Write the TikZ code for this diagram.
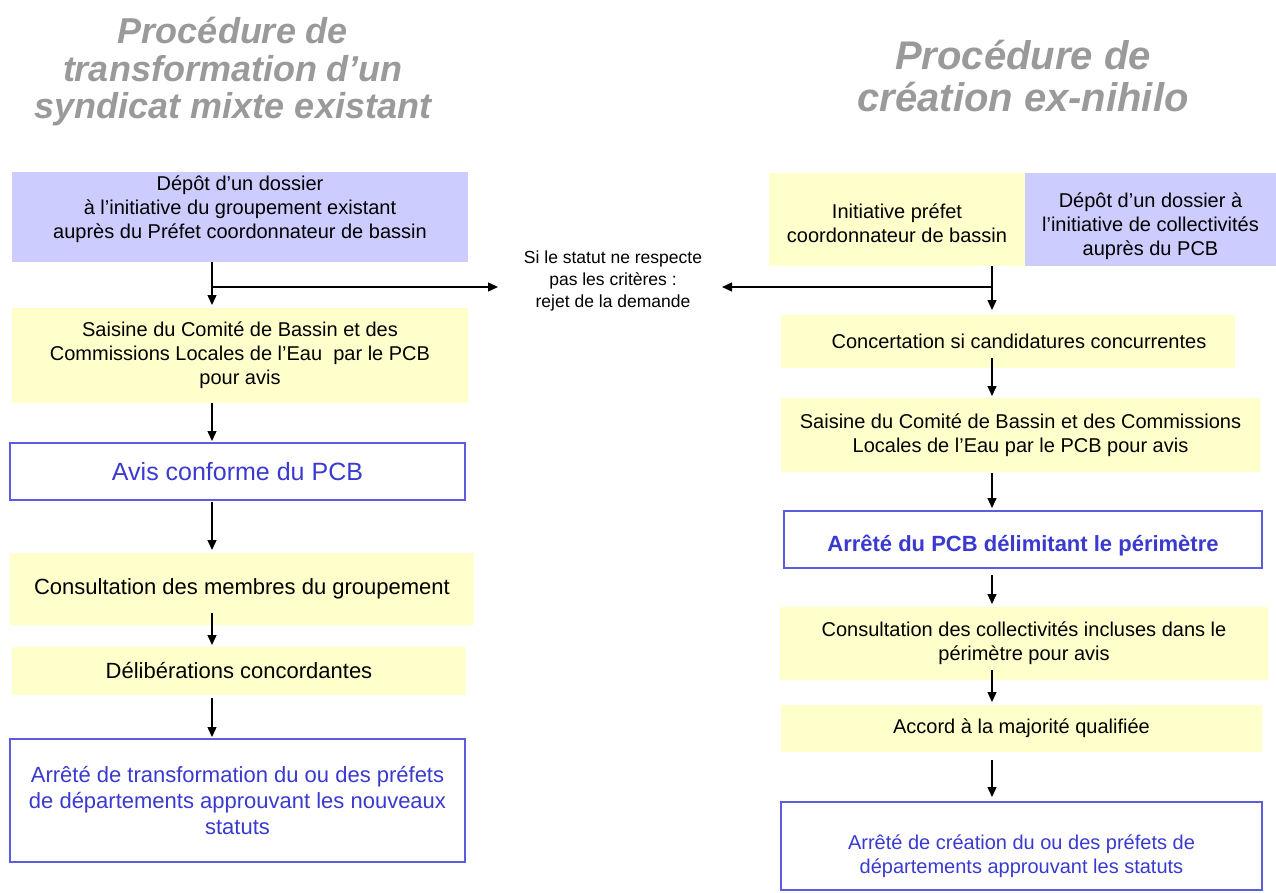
\documentclass[tikz,border=0pt]{standalone}
\usepackage{fontspec}
\setmainfont{Liberation Sans}
\usetikzlibrary{arrows.meta,calc}
\definecolor{lav}{HTML}{CCCCFF}
\definecolor{yel}{HTML}{FFFFCC}
\definecolor{bborder}{HTML}{5C5CE0}
\definecolor{btext}{HTML}{3A3AD0}
\definecolor{titlegray}{HTML}{9A9A9A}
\begin{document}
\begin{tikzpicture}[x=1pt,y=-1pt,
  box/.style={rectangle,inner sep=2pt,align=center,outer sep=0pt},
  lavbox/.style={box,fill=lav},
  yelbox/.style={box,fill=yel},
  outbox/.style={box,draw=bborder,line width=1.4pt,fill=white,text=btext},
  t20/.style={font=\fontsize{20}{24}\selectfont},
  t22/.style={font=\fontsize{22}{26}\selectfont},
  arr/.style={line width=1.4pt,-{Triangle[width=9pt,length=10pt]}},
  ttl/.style={align=center,text=titlegray,inner sep=0pt}]
\useasboundingbox (0,0) rectangle (1276,893);
% titles
\node[ttl,font=\fontsize{36}{37.5}\selectfont\bfseries\itshape] (tl) at (233,72) {Procédure de\\transformation d’un\\syndicat mixte existant};
\node[ttl,font=\fontsize{40}{42}\selectfont\bfseries\itshape] (tr) at (1023,76) {Procédure de\\création ex-nihilo};
% left column
\node[lavbox,t20,minimum width=456pt,minimum height=90pt] (L1) at (240,217) {Dépôt d’un dossier\\à l’initiative du groupement existant\\auprès du Préfet coordonnateur de bassin\\[-4pt]};
\node[yelbox,t20,minimum width=456pt,minimum height=95pt] (L2) at (240,355.5) {Saisine du Comité de Bassin et des\\Commissions Locales de l’Eau~ par le PCB\\pour avis};
\node[outbox,font=\fontsize{25}{29}\selectfont,minimum width=455pt,minimum height=57pt] (L3) at (237.5,471.5) {Avis conforme du PCB};
\node[yelbox,t22,minimum width=464pt,minimum height=72pt] (L4) at (242,589) {Consultation des membres du groupement};
\node[yelbox,t22,minimum width=454pt,minimum height=48pt] (L5) at (239,671) {Délibérations concordantes};
\node[outbox,t22,minimum width=455pt,minimum height=123pt] (L6) at (237.5,800.5) {Arrêté de transformation du ou des préfets\\de départements approuvant les nouveaux\\statuts};
% middle
\node[align=center,font=\fontsize{17.5}{22}\selectfont,inner sep=0pt] (rej) at (613,281) {Si le statut ne respecte\\pas les critères :\\rejet de la demande};
% right column
\node[yelbox,t20,minimum width=256pt,minimum height=93pt] (R1a) at (897,219.5) {Initiative préfet\\coordonnateur de bassin\\[-32pt]};
\node[lavbox,t20,minimum width=251pt,minimum height=93pt] (R1b) at (1150.5,219.5) {Dépôt d’un dossier à\\l’initiative de collectivités\\auprès du PCB\\[-33pt]};
\node[yelbox,t20,minimum width=454pt,minimum height=53pt] (R2) at (1008,341.5) {\hspace*{22pt}Concertation si candidatures concurrentes};
\node[yelbox,t20,minimum width=479pt,minimum height=74pt] (R3) at (1020.5,435) {Saisine du Comité de Bassin et des Commissions\\Locales de l’Eau par le PCB pour avis};
\node[outbox,font=\fontsize{22}{26}\selectfont\bfseries,minimum width=478pt,minimum height=57pt] (R4) at (1023,539.5) {Arrêté du PCB délimitant le périmètre\\[-34pt]};
\node[yelbox,t20,minimum width=488pt,minimum height=73pt] (R5) at (1024,643.5) {Consultation des collectivités incluses dans le\\périmètre pour avis};
\node[yelbox,t20,minimum width=481pt,minimum height=47pt] (R6) at (1021.5,728.5) {Accord à la majorité qualifiée};
\node[outbox,t20,minimum width=481pt,minimum height=88pt] (R7) at (1021.5,846) {Arrêté de création du ou des préfets de\\départements approuvant les statuts\\[-40pt]};
% connectors
\coordinate (lx) at (212,0);
\coordinate (rx) at (992,0);
\coordinate (jl) at (212,287);
\coordinate (jr) at (992,287);
\coordinate (el) at (498,287);
\coordinate (er) at (722,287);
\draw[arr] (L1.south -| lx) -- ($(L2.north -| lx)+(0,-3)$);
\draw[arr] (jl) -- (el);
\draw[arr] (L2.south -| lx) -- ($(L3.north -| lx)+(0,-2)$);
\draw[arr] ($(L3.south -| lx)+(0,2)$) -- ($(L4.north -| lx)+(0,-3)$);
\draw[arr] ($(L4.south -| lx)+(0,-12)$) -- ($(L5.north -| lx)+(0,-2)$);
\draw[arr] ($(L5.south -| lx)+(0,3)$) -- ($(L6.north -| lx)+(0,-2)$);
\draw[arr] (R1a.south -| rx) -- ($(R2.north -| rx)+(0,-5)$);
\draw[arr] (jr) -- (er);
\draw[arr] ($(R2.south -| rx)+(0,-10)$) -- ($(R3.north -| rx)+(0,-2)$);
\draw[arr] ($(R3.south -| rx)+(0,1)$) -- ($(R4.north -| rx)+(0,-3)$);
\draw[arr] ($(R4.south -| rx)+(0,7)$) -- ($(R5.north -| rx)+(0,-3)$);
\draw[arr] ($(R5.south -| rx)+(0,-10)$) -- ($(R6.north -| rx)+(0,-3)$);
\draw[arr] ($(R6.south -| rx)+(0,8)$) -- ($(R7.north -| rx)+(0,-5)$);
\end{tikzpicture}
\end{document}
